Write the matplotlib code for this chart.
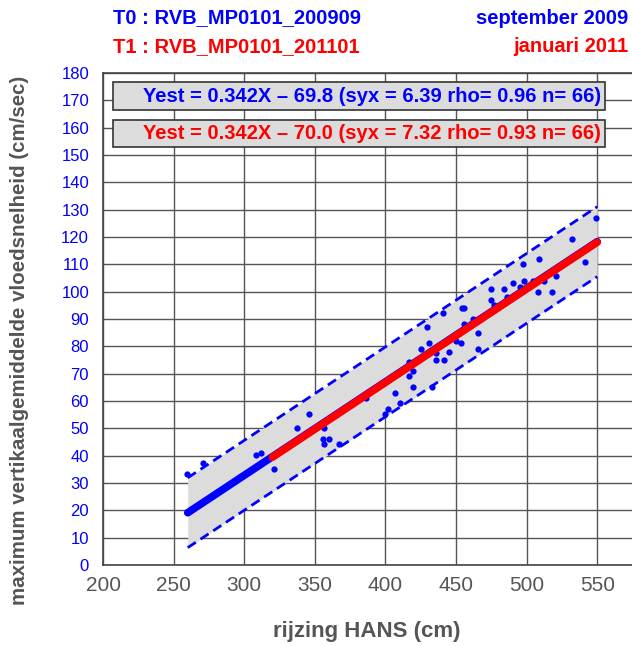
import numpy as np
import matplotlib.pyplot as plt

plt.rcParams['font.family'] = ['Liberation Sans', 'DejaVu Sans']

# Meetpunten (rijzing HANS in cm, max. vloedsnelheid in cm/sec)
hans = [259.7, 271.0, 308.4, 312.0, 321.1, 337.2, 346.1, 356.5, 356.0, 360.2,
        356.5, 366.9, 386.3, 399.7, 402.0, 407.0, 410.3, 417.0, 419.4, 417.0,
        419.2, 432.7, 425.0, 429.2, 430.8, 435.8, 441.6, 435.8, 445.2, 440.8,
        450.0, 453.6, 455.5, 454.0, 455.5, 461.8, 465.8, 465.8, 475.0, 475.0,
        476.6, 483.8, 486.4, 490.6, 495.5, 497.2, 497.9, 504.5, 508.0, 508.9,
        512.3, 518.0, 520.6, 531.9, 541.1, 548.9]
snelheid = [33.2, 37.2, 40.1, 41.1, 35.1, 50.2, 55.1, 50.2, 46.2, 46.2,
            44.1, 44.1, 61.0, 55.1, 57.0, 63.0, 59.2, 74.3, 71.1, 69.3,
            65.2, 65.2, 78.9, 87.0, 81.1, 75.0, 75.0, 77.7, 78.0, 92.2,
            82.0, 81.1, 88.1, 93.9, 93.9, 90.0, 85.0, 78.9, 100.9, 97.1,
            95.2, 100.9, 98.0, 103.1, 101.8, 110.1, 104.0, 104.0, 100.0, 112.0,
            103.9, 100.0, 105.7, 119.2, 111.0, 127.1]

# regressies T0 en T1
a0, b0, syx0 = 0.342, -69.8, 6.39
a1, b1 = 0.342, -70.0
x_t0 = [260, 550]
x_t1 = [320, 550]
label_t0 = 'Yest = 0.342X \u2013 69.8 (syx = 6.39 rho= 0.96 n= 66)'
label_t1 = 'Yest = 0.342X \u2013 70.0 (syx = 7.32 rho= 0.93 n= 66)'

xticks = np.arange(200, 551, 50)
yticks = np.arange(0, 181, 10)

fig = plt.figure(figsize=(6.32, 6.46), dpi=100)
ax = fig.add_axes([103/632, 81/646, 529/632, 492/646])

xb = np.array(x_t0)
yb = a0*xb + b0
ax.fill_between(xb, yb - 2*syx0, yb + 2*syx0, color='#dcdcdc', zorder=2, lw=0)
ax.plot(xb, yb + 2*syx0, color='blue', ls=(0, (3.5, 2)), lw=2, zorder=3)
ax.plot(xb, yb - 2*syx0, color='blue', ls=(0, (3.5, 2)), lw=2, zorder=3)
ax.plot(hans, snelheid, 'o', color='blue', ms=4.5, mec='none', zorder=4)
ax.plot(xb, yb, color='blue', lw=5.5, solid_capstyle='round', zorder=5)
xr = np.array(x_t1)
ax.plot(xr, a1*xr + b1, color='red', lw=5.5, solid_capstyle='round', zorder=6)

ax.set_xlim(200, 200 + 529/70.6*50)
ax.set_ylim(0, 180)
ax.set_xticks(xticks)
ax.set_yticks(yticks)
ax.grid(True, color='#555555', lw=1, zorder=1)
ax.set_axisbelow(True)
ax.tick_params(length=0)
ax.tick_params(axis='y', labelcolor='blue', labelsize=12, pad=10)
ax.tick_params(axis='x', labelcolor='#555555', labelsize=15, pad=8)
ax.spines['right'].set_visible(False)
for s in ['left', 'bottom', 'top']:
    ax.spines[s].set_color('#444444')
    ax.spines[s].set_linewidth(1.2)

ax.set_xlabel('rijzing HANS (cm)', fontsize=16, fontweight='bold', color='#555555')
ax.xaxis.set_label_coords(0.499, -0.136)
ax.xaxis.label.set_va('center')
ax.set_ylabel('maximum vertikaalgemiddelde vloedsnelheid (cm/sec)', fontsize=14.8,
              fontweight='bold', color='#555555')
ax.yaxis.set_label_coords(-0.157, 0.457)
ax.yaxis.label.set_va('center')

# legenda-vakken
for lbl, col, yc in [(label_t0, 'blue', 96), (label_t1, 'red', 133.5)]:
    fig.patches.append(plt.Rectangle((113/632, 1 - (yc + 13.5)/646), 492/632, 27/646,
                                     transform=fig.transFigure, fc='#dcdcdc', ec='#333333',
                                     lw=1.2, zorder=10))
    fig.text(601/632, 1 - yc/646, lbl, color=col, fontsize=14.5, fontweight='bold',
             ha='right', va='center', zorder=11)

fig.text(113/632, 1 - 18/646, 'T0 : RVB_MP0101_200909', color='blue', fontsize=14.5,
         fontweight='bold', va='center')
fig.text(113/632, 1 - 47/646, 'T1 : RVB_MP0101_201101', color='red', fontsize=14.5,
         fontweight='bold', va='center')
fig.text(628/632, 1 - 18/646, 'september 2009', color='blue', fontsize=14.5,
         fontweight='bold', va='center', ha='right')
fig.text(628/632, 1 - 47/646, 'januari 2011', color='red', fontsize=14.5,
         fontweight='bold', va='center', ha='right')

fig.savefig('out.png', dpi=100)
